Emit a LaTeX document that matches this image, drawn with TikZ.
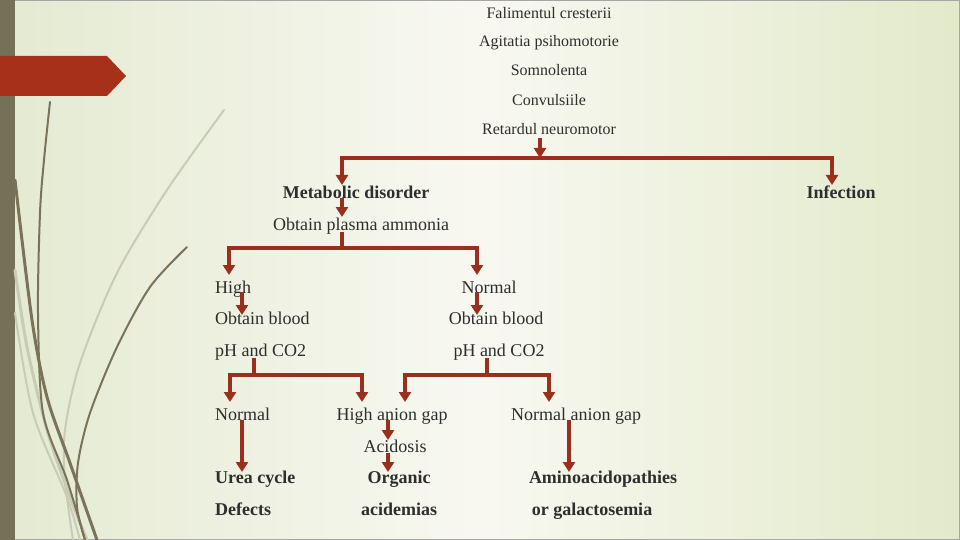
\documentclass[tikz,border=0pt]{standalone}
\usepackage{fontspec}
\setmainfont{Liberation Serif}
\usetikzlibrary{arrows.meta}
\definecolor{arrowred}{HTML}{9A2F1E}
\definecolor{bannerred}{HTML}{A6301A}
\definecolor{strip}{HTML}{757058}
\definecolor{txt}{HTML}{2E2E2E}
\definecolor{bgleft}{HTML}{E4EAD1}
\definecolor{bgmid}{HTML}{F8F8F1}
\definecolor{bgright}{HTML}{E2EACA}
\definecolor{curvedark}{HTML}{7A735A}
\definecolor{curvelight}{HTML}{C8CCB4}
\tikzset{
  lbl/.style={inner sep=0pt, text=txt, font=\fontsize{18}{20}\selectfont},
  blbl/.style={inner sep=0pt, text=txt, font=\fontsize{18}{20}\selectfont\bfseries},
  slbl/.style={inner sep=0pt, text=txt, font=\fontsize{16}{18}\selectfont},
  ln/.style={draw=arrowred, line width=3.6pt, line join=miter},
  arr/.style={ln, -{Triangle[width=12pt,length=10pt]}},
  dcurve/.style={draw=curvedark, line cap=round},
  lcurve/.style={draw=curvelight, line cap=round}
}
\begin{document}
\begin{tikzpicture}[x=1pt,y=-1pt]
\useasboundingbox (0,0) rectangle (960,540);
% background
\shade[left color=bgleft, right color=bgright, middle color=bgmid] (0,0) rectangle (960,540);
% frame
\draw[gray!70, line width=1.5pt] (0.75,0.75) rectangle (959.25,539.25);
\fill[strip] (0,0) rectangle (15,540);
% decorative curves
\draw[lcurve, line width=2pt] plot[smooth] coordinates {(224,110) (167,190) (117,273) (80,363) (65,430) (65,480) (73,540)};
\draw[lcurve, line width=3pt] plot[smooth] coordinates {(15,270) (27,347) (47,430) (70,497) (87,540)};
\draw[lcurve, line width=2pt] plot[smooth] coordinates {(15,313) (33,413) (67,497) (80,540)};
\draw[dcurve, line width=2pt] plot[smooth] coordinates {(50,102) (44,160) (40,213) (38,313) (43,413) (67,480) (85,540)};
\draw[dcurve, line width=3pt] plot[smooth] coordinates {(15,180) (32,320) (47,397) (70,463) (97,540)};
\draw[dcurve, line width=2pt] plot[smooth] coordinates {(187,247) (150,287) (117,347) (90,413) (78,463) (77,507) (85,540)};
% banner
\fill[bannerred] (0,56) -- (107,56) -- (126,76) -- (107,96) -- (0,96) -- cycle;

% texts
\node[slbl, anchor=base] (t1) at (549,18.5) {Falimentul cresterii};
\node[slbl, anchor=base] (t2) at (549,47) {Agitatia psihomotorie};
\node[slbl, anchor=base] (t3) at (549,76) {Somnolenta};
\node[slbl, anchor=base] (t4) at (549,106) {Convulsiile};
\node[slbl, anchor=base] (t5) at (549,135) {Retardul neuromotor};

\node[blbl, anchor=base] (md) at (356,198) {Metabolic disorder};
\node[blbl, anchor=base] (inf) at (841,198) {Infection};
\node[lbl, anchor=base] (opa) at (361,230) {Obtain plasma ammonia};

\node[lbl, anchor=base west] (high) at (215,293) {High};
\node[lbl, anchor=base] (norm) at (489,293) {Normal};
\node[lbl, anchor=base west] (ob1) at (215,324) {Obtain blood};
\node[lbl, anchor=base] (ob2) at (496,324) {Obtain blood};
\node[lbl, anchor=base west] (ph1) at (215,356) {pH and CO2};
\node[lbl, anchor=base] (ph2) at (499,356) {pH and CO2};

\node[lbl, anchor=base west] (n2) at (215,420) {Normal};
\node[lbl, anchor=base] (hag) at (392,420) {High anion gap};
\node[lbl, anchor=base] (nag) at (576,420) {Normal anion gap};
\node[lbl, anchor=base] (acid) at (395,452) {Acidosis};

\node[blbl, anchor=base west] (urea) at (215,483) {Urea cycle};
\node[blbl, anchor=base west] (def) at (215,515) {Defects};
\node[blbl, anchor=base] (org) at (399,483) {Organic};
\node[blbl, anchor=base] (acdm) at (399,515) {acidemias};
\node[blbl, anchor=base] (amino) at (603,483) {Aminoacidopathies};
\node[blbl, anchor=base] (gal) at (592,515) {or galactosemia};

% connector points
\coordinate (r0) at (540,138);
\coordinate (j1) at (540,158);
\coordinate (mdtip) at (342,185);
\coordinate (inftip) at (832,185);
\coordinate (a0) at (342,198);
\coordinate (a1) at (342,217);
\coordinate (b0) at (342,232);
\coordinate (j2) at (342,248);
\coordinate (hightip) at (229,275);
\coordinate (normtip) at (477,275);
\coordinate (c0) at (242,292);
\coordinate (c1) at (242,315);
\coordinate (d0) at (477,292);
\coordinate (d1) at (477,315);
\coordinate (e0) at (254,358);
\coordinate (j3) at (254,375);
\coordinate (ntip) at (230,402);
\coordinate (hagtip) at (362,402);
\coordinate (f0) at (487,358);
\coordinate (j4) at (487,375);
\coordinate (hag2tip) at (405,402);
\coordinate (nagtip) at (549,402);
\coordinate (g0) at (242,420);
\coordinate (g1) at (242,472);
\coordinate (h0) at (388,420);
\coordinate (h1) at (388,440);
\coordinate (i0) at (388,453);
\coordinate (i1) at (388,472);
\coordinate (k0) at (569,420);
\coordinate (k1) at (569,472);

% connectors
\draw[arr] (r0) -- (j1);
\draw[arr] (j1) -| (mdtip);
\draw[arr] (j1) -| (inftip);
\draw[arr] (a0) -- (a1);
\draw[ln] (b0) -- (j2);
\draw[arr] (j2) -| (hightip);
\draw[arr] (j2) -| (normtip);
\draw[arr] (c0) -- (c1);
\draw[arr] (d0) -- (d1);
\draw[ln] (e0) -- (j3);
\draw[arr] (j3) -| (ntip);
\draw[arr] (j3) -| (hagtip);
\draw[ln] (f0) -- (j4);
\draw[arr] (j4) -| (hag2tip);
\draw[arr] (j4) -| (nagtip);
\draw[arr] (g0) -- (g1);
\draw[arr] (h0) -- (h1);
\draw[arr] (i0) -- (i1);
\draw[arr] (k0) -- (k1);
\end{tikzpicture}
\end{document}
